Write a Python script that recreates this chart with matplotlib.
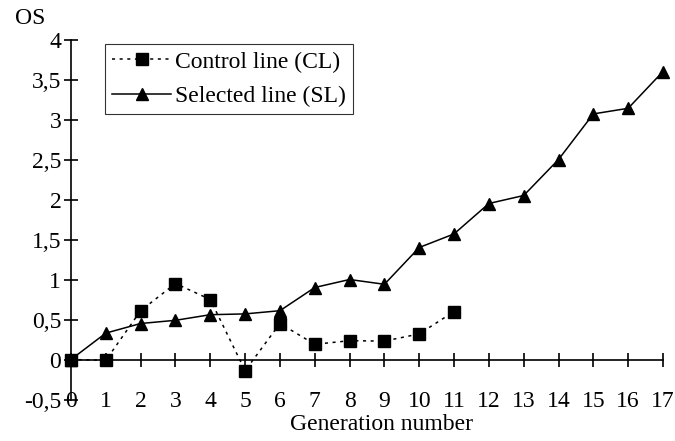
import matplotlib
matplotlib.use("Agg")
import matplotlib.pyplot as plt
from matplotlib.ticker import FuncFormatter

generations = list(range(18))
control_gen = list(range(12))
control_vals = [0.0, -0.01, 0.61, 0.95, 0.75, -0.14, 0.45, 0.19, 0.235, 0.23, 0.32, 0.6]
selected_vals = [0.0, 0.33, 0.45, 0.49, 0.56, 0.57, 0.61, 0.9, 1.0, 0.94, 1.4, 1.57,
                 1.95, 2.05, 2.5, 3.07, 3.14, 3.6]
y_ticks = [-0.5, 0, 0.5, 1, 1.5, 2, 2.5, 3, 3.5, 4]
x_ticks = list(range(18))

plt.rcParams['font.family'] = ['Liberation Serif', 'DejaVu Serif']
FS = 17

fig = plt.figure(figsize=(6.75, 4.41), dpi=100)
ax = fig.add_axes([71/675, 1-399.5/441, 592/675, 360/441])

ax.plot(control_gen, control_vals, color='black', linestyle=(0, (2, 3)), linewidth=1.1,
        marker='s', markersize=8, clip_on=False, label='Control line (CL)', zorder=3)
ax.plot(generations, selected_vals, color='black', linestyle='-', linewidth=1.1,
        marker='^', markersize=9, clip_on=False, label='Selected line (SL)', zorder=3)

ax.set_xlim(0, 17)
ax.set_ylim(-0.5, 4)
for s in ['top', 'right']:
    ax.spines[s].set_visible(False)
ax.spines['bottom'].set_position(('data', 0))
ax.spines['bottom'].set_linewidth(1.2)
ax.spines['left'].set_linewidth(1.2)

ax.set_xticks(x_ticks)
ax.set_xticklabels([str(v) for v in x_ticks])
ax.set_yticks(y_ticks)
ax.yaxis.set_major_formatter(FuncFormatter(lambda v, p: ('%g' % v).replace('.', ',')))
ax.tick_params(axis='x', direction='inout', length=10, width=1.2, labelsize=FS, pad=18)
ax.tick_params(axis='y', direction='inout', length=10, width=1.2, labelsize=FS, pad=2)

leg = ax.legend(loc='upper left', bbox_to_anchor=(34/592, (399.5-44)/360), borderaxespad=0,
                fontsize=FS, frameon=True, fancybox=False, handlelength=2.5,
                handletextpad=0.15, borderpad=0.3, labelspacing=0.55)
leg.get_frame().set_edgecolor('black')
leg.get_frame().set_linewidth(0.8)

fig.text(30/675, 1-18/441, 'OS', ha='center', va='center', fontsize=FS)
fig.text(382/675, 1-425/441, 'Generation number', ha='center', va='center', fontsize=FS)

fig.savefig('out.png', dpi=100)
